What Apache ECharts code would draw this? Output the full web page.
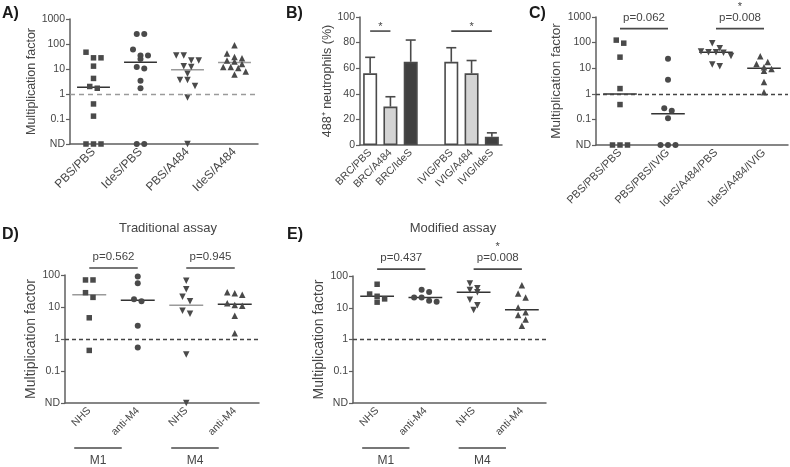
<!DOCTYPE html>
<html><head><meta charset="utf-8">
<script src="https://cdn.jsdelivr.net/npm/echarts@6/dist/echarts.min.js"></script>
<style>html,body{margin:0;padding:0;background:#fff}#c{width:790px;height:467px}</style>
</head><body><div id="c"></div>
<script>
const ND = 'ND'; // not detected, drawn on the ND baseline
// ---------- Panel A ----------
const catsA = ['PBS/PBS', 'IdeS/PBS', 'PBS/A484', 'IdeS/A484'];
const a_PBS_PBS   = [47, 28, 28, 13, 4.2, 2.0, 1.7, 0.4, 0.13, ND, ND, ND];
const a_IdeS_PBS  = [250, 250, 60, 35, 35, 25, 12, 10.5, 3.4, 1.7, ND, ND];
const a_PBS_A484  = [35, 35, 22, 22, 13, 12, 6.5, 3.6, 3.6, 2.1, 0.72, ND];
const a_IdeS_A484 = [90, 42, 30, 27, 22, 20, 16, 12, 12, 11, 8, 6];
// ---------- Panel B ----------
const catsB = ['BRC/PBS', 'BRC/A484', 'BRC/IdeS', '', 'IVIG/PBS', 'IVIG/A484', 'IVIG/IdeS'];
const b_mean = [56, 30, 65, null, 65, 56, 6.5];
const b_sd   = [12.5, 7.7, 17, null, 11, 10, 3];
const sigB = [[0, 1, '*'], [4, 6, '*']];
// ---------- Panel C ----------
const catsC = ['PBS/PBS/PBS', 'PBS/PBS/IVIG', 'IdeS/A484/PBS', 'IdeS/A484/IVIG'];
const c_PBS_PBS_PBS   = [125, 95, 27, 1.6, 0.38, ND, ND, ND];
const c_PBS_PBS_IVIG  = [23.5, 3.5, 0.27, 0.22, 0.11, ND, ND, ND];
const c_IdeS_A484_PBS = [95, 60, 45, 42, 42, 40, 30, 14, 12];
const c_IdeS_A484_IVIG= [29, 17.5, 14.5, 10.8, 9.3, 8, 2.9, 1.15];
const sigC = [[0, 1, 'p=0.062', ''], [2, 3, 'p=0.008', '*']];
// ---------- Panels D / E ----------
const catsDE = ['NHS', 'anti-M4', 'NHS', 'anti-M4'];
const groupsDE = ['M1', 'M4'];
const d_M1_NHS = [70, 70, 28, 20, 4.6, 0.44];
const d_M1_anti = [89, 55, 17.5, 15, 2.6, 0.54];
const d_M4_NHS = [66, 36, 21, 15, 7.7, 6.1, 0.33, ND];
const d_M4_anti = [29, 27, 24, 13, 11.5, 11, 5.3, 1.5];
const sigD = [[0, 1, 'p=0.562', ''], [2, 3, 'p=0.945', '']];
const e_M1_NHS = [55, 27, 23, 19, 15];
const e_M1_anti = [37, 31.6, 21, 21, 16.5, 15.5];
const e_M4_NHS = [58, 41, 36, 31, 18, 12, 8.5];
const e_M4_anti = [51, 28, 21, 10.2, 7.2, 5.9, 4.3, 2.7];
const sigE = [[0, 1, 'p=0.437', ''], [2, 3, 'p=0.008', '*']];

// ---------- helpers ----------
const FONT = '"Liberation Sans", Arial, Helvetica, sans-serif';
const AX = '#5f5f5f', TXT = '#454545', MK = '#4a4a4a';
const toVal = v => v === ND ? 0.01 : v;
function median(arr) {
  const s = arr.map(v => v === ND ? 0.01 : v).sort((a, b) => a - b);
  const n = s.length;
  return n % 2 ? s[(n - 1) / 2] : (s[n / 2 - 1] + s[n / 2]) / 2;
}
function swarm(arr, pxPerDec, bandPx) {
  const gap = 7.5, thr = 6;
  const items = arr.map((v, k) => ({ k, y: Math.log10(toVal(v)) * pxPerDec })).sort((a, b) => b.y - a.y);
  const rows = [];
  items.forEach(it => {
    const r = rows[rows.length - 1];
    if (r && r[0].y - it.y < thr) r.push(it); else rows.push([it]);
  });
  const off = [];
  rows.forEach(r => r.forEach((it, j) => { off[it.k] = (j - (r.length - 1) / 2) * gap / bandPx; }));
  return off;
}
const logFmt = v => v <= 0.011 ? 'ND' : (v < 1 ? String(+v.toFixed(2)) : String(Math.round(v)));

const SYM = [
  { symbol: 'rect', size: 5.5, rot: 0 },
  { symbol: 'circle', size: 6, rot: 0 },
  { symbol: 'triangle', size: 6.5, rot: 180 },
  { symbol: 'triangle', size: 6.5, rot: 0 }
];

const scatterPanels = [
  { gi: 0, cats: catsA, groups: [a_PBS_PBS, a_IdeS_PBS, a_PBS_A484, a_IdeS_A484],
    grid: { left: 70, top: 19, width: 188, height: 125 }, ymax: 1000, nameGap: 28, nameSize: 12.5,
    xLabelSize: 12, medColors: ['#333', '#333', '#9a9a9a', '#9a9a9a'], dash: { color: '#9a9a9a', type: [5, 4] } },
  { gi: 2, cats: catsC, groups: [c_PBS_PBS_PBS, c_PBS_PBS_IVIG, c_IdeS_A484_PBS, c_IdeS_A484_IVIG],
    grid: { left: 596, top: 17, width: 192, height: 128 }, ymax: 1000, nameGap: 30, nameSize: 13.5,
    xLabelSize: 11, medColors: ['#333', '#333', '#333', '#333'], dash: { color: '#444', type: [4, 3] }, sig: sigC, sigY: 350 },
  { gi: 3, cats: catsDE, groups: [d_M1_NHS, d_M1_anti, d_M4_NHS, d_M4_anti],
    grid: { left: 65, top: 275, width: 194, height: 128 }, ymax: 100, nameGap: 26, nameSize: 14,
    xLabelSize: 10.5, medColors: ['#9a9a9a', '#333', '#9a9a9a', '#333'], dash: { color: '#444', type: [4, 3] }, sig: sigD, sigY: 165, groupsLbl: true },
  { gi: 4, cats: catsDE, groups: [e_M1_NHS, e_M1_anti, e_M4_NHS, e_M4_anti],
    grid: { left: 353, top: 276, width: 193, height: 127 }, ymax: 100, nameGap: 24, nameSize: 14,
    xLabelSize: 10.5, medColors: ['#333', '#333', '#333', '#333'], dash: { color: '#444', type: [4, 3] }, sig: sigE, sigY: 165, groupsLbl: true }
];

const grids = [scatterPanels[0].grid, { left: 360, top: 17, width: 142, height: 128 }, scatterPanels[1].grid, scatterPanels[2].grid, scatterPanels[3].grid];
const xAxes = [], yAxes = [], series = [];

function catAxis(gi, data, size) {
  return {
    type: 'category', gridIndex: gi, data, boundaryGap: true,
    axisLine: { onZero: false, lineStyle: { color: AX, width: 1.5 } },
    axisTick: { alignWithLabel: true, length: 3, interval: (i, v) => v !== '', lineStyle: { color: AX, width: 1.2 } },
    axisLabel: { rotate: 45, interval: 0, fontSize: size, color: TXT, fontFamily: FONT, margin: 6 },
    splitLine: { show: false }
  };
}

scatterPanels.forEach(p => {
  p.pxPerDec = p.grid.height / (Math.log10(p.ymax) + 2);
  p.bandPx = p.grid.width / 4;
});

// build scatter panels
scatterPanels.forEach(p => {
  p.catIdx = xAxes.length; xAxes.push(catAxis(p.gi, p.cats, p.xLabelSize));
  p.valIdx = xAxes.length; xAxes.push({ type: 'value', gridIndex: p.gi, min: -0.5, max: 3.5, show: false });
  p.yIdx = yAxes.length;
  yAxes.push({
    type: 'log', logBase: 10, gridIndex: p.gi, min: 0.01, max: p.ymax,
    axisLine: { show: true, onZero: false, lineStyle: { color: AX, width: 1.5 } },
    axisTick: { show: true, length: 4, lineStyle: { color: AX, width: 1.2 } },
    axisLabel: { formatter: logFmt, fontSize: 10.5, color: TXT, fontFamily: FONT, margin: 5 },
    splitLine: { show: false },
    name: 'Multiplication factor', nameLocation: 'middle', nameGap: p.nameGap,
    nameTextStyle: { fontSize: p.nameSize, color: TXT, fontFamily: FONT }
  });
  p.groups.forEach((arr, i) => {
    const off = swarm(arr, p.pxPerDec, p.bandPx);
    const s = {
      type: 'scatter', xAxisIndex: p.valIdx, yAxisIndex: p.yIdx, clip: false, silent: true, z: 3,
      symbol: SYM[i].symbol, symbolSize: SYM[i].size, symbolRotate: SYM[i].rot,
      itemStyle: { color: MK, opacity: 1 },
      data: arr.map((v, k) => [i + off[k], toVal(v)])
    };
    if (i === 0) {
      s.markLine = { silent: true, symbol: 'none', label: { show: false },
        lineStyle: { color: p.dash.color, type: p.dash.type, width: 1.3 }, data: [{ yAxis: 1 }] };
    }
    series.push(s);
  });
  const meds = p.groups.map((arr, i) => [i, median(arr), i]);
  series.push({
    type: 'custom', xAxisIndex: p.valIdx, yAxisIndex: p.yIdx, silent: true, z: 2, clip: false,
    data: meds,
    renderItem: (params, api) => {
      const c = api.value(0), m = api.value(1), ci = api.value(2);
      const p1 = api.coord([c - 0.35, m]), p2 = api.coord([c + 0.35, m]);
      return { type: 'line', shape: { x1: p1[0], y1: p1[1], x2: p2[0], y2: p2[1] },
        style: { stroke: p.medColors[ci], lineWidth: 1.5 } };
    }
  });
});

// Panel B
const bCatIdx = xAxes.length;
xAxes.push(catAxis(1, catsB, 10.5));
const bYIdx = yAxes.length;
yAxes.push({
  type: 'value', gridIndex: 1, min: 0, max: 100, interval: 20,
  axisLine: { show: true, onZero: false, lineStyle: { color: AX, width: 1.5 } },
  axisTick: { show: true, length: 4, lineStyle: { color: AX, width: 1.2 } },
  axisLabel: { fontSize: 10.5, color: TXT, fontFamily: FONT, margin: 5 },
  splitLine: { show: false },
  name: '488\u207A neutrophils (%)', nameLocation: 'middle', nameGap: 26,
  nameTextStyle: { fontSize: 12.5, color: TXT, fontFamily: FONT }
});
const B_FILL = ['#ffffff', '#d4d4d4', '#404040'];
series.push({
  type: 'bar', xAxisIndex: bCatIdx, yAxisIndex: bYIdx, barWidth: 14, silent: true, z: 2,
  data: b_mean.map((v, i) => v === null ? null : ({ value: v,
    itemStyle: { color: B_FILL[i < 3 ? i : i - 4], borderColor: '#4a4a4a', borderWidth: 1.6 } }))
});
series.push({
  type: 'custom', xAxisIndex: bCatIdx, yAxisIndex: bYIdx, silent: true, z: 3,
  data: b_mean.map((v, i) => v === null ? [i, NaN, NaN] : [i, v, b_sd[i]]),
  renderItem: (params, api) => {
    const i = api.value(0), m = api.value(1), sd = api.value(2);
    if (isNaN(m)) return null;
    const p0 = api.coord([i, m]), p1 = api.coord([i, m + sd]);
    return { type: 'group', children: [
      { type: 'line', shape: { x1: p0[0], y1: p0[1], x2: p1[0], y2: p1[1] }, style: { stroke: '#4a4a4a', lineWidth: 1.6 } },
      { type: 'line', shape: { x1: p1[0] - 5, y1: p1[1], x2: p1[0] + 5, y2: p1[1] }, style: { stroke: '#4a4a4a', lineWidth: 1.6 } }
    ] };
  }
});

const chart = echarts.init(document.getElementById('c'));
chart.setOption({
  animation: false, backgroundColor: '#ffffff',
  textStyle: { fontFamily: FONT },
  grid: grids.map(g => Object.assign({ containLabel: false }, g)),
  xAxis: xAxes, yAxis: yAxes, series
});

// ---------- annotations placed through the axes ----------
const G = [];
const LINE = '#4a4a4a';
function txt(x, y, s, size, opts) {
  return Object.assign({ type: 'text', silent: true, z: 10,
    style: { x, y, text: s, fill: TXT, font: size + 'px ' + FONT, align: 'center', verticalAlign: 'middle',
      textAlign: 'center', textVerticalAlign: 'middle' } }, opts || {});
}
function seg(x1, y1, x2, y2) {
  return { type: 'line', silent: true, z: 10, shape: { x1, y1, x2, y2 }, style: { stroke: LINE, lineWidth: 1.6 } };
}
scatterPanels.forEach(p => {
  const f = { xAxisIndex: p.valIdx, yAxisIndex: p.yIdx };
  if (p.sig) p.sig.forEach(([a, b, ptxt, star]) => {
    const p1 = chart.convertToPixel(f, [a, p.sigY]), p2 = chart.convertToPixel(f, [b, p.sigY]);
    const y = p1[1], mid = (p1[0] + p2[0]) / 2;
    G.push(seg(p1[0], y, p2[0], y));
    G.push(txt(mid, y - 11, ptxt, 11.5));
    if (star) G.push(txt(mid, y - 22, star, 11));
  });
  if (p.groupsLbl) {
    const bottom = chart.convertToPixel(f, [0, 0.01])[1];
    groupsDE.forEach((name, g) => {
      const x1 = chart.convertToPixel(f, [2 * g - 0.31, 1])[0];
      const x2 = chart.convertToPixel(f, [2 * g + 0.67, 1])[0];
      G.push(seg(x1, bottom + 45, x2, bottom + 45));
      G.push(txt((x1 + x2) / 2, bottom + 58, name, 12));
    });
  }
});
sigB.forEach(([a, b, star]) => {
  const f = { xAxisIndex: bCatIdx, yAxisIndex: bYIdx };
  const p1 = chart.convertToPixel(f, [a, 89]), p2 = chart.convertToPixel(f, [b, 89]);
  G.push(seg(p1[0], p1[1], p2[0], p1[1]));
  G.push(txt((p1[0] + p2[0]) / 2, p1[1] - 4, star, 11));
});
// panel letters and titles
const letter = (x, y, s) => ({ type: 'text', silent: true, z: 10,
  style: { x, y, text: s, fill: '#1a1a1a', font: 'bold 16px ' + FONT, align: 'left', verticalAlign: 'middle', textAlign: 'left', textVerticalAlign: 'middle' } });
G.push(letter(2, 14, 'A)'), letter(286, 14, 'B)'), letter(529, 14, 'C)'), letter(2, 235, 'D)'), letter(287, 235, 'E)'));
G.push(txt(168, 228, 'Traditional assay', 13, {}), txt(453, 228, 'Modified assay', 13, {}));
chart.setOption({ graphic: G });
</script>
</body></html>
